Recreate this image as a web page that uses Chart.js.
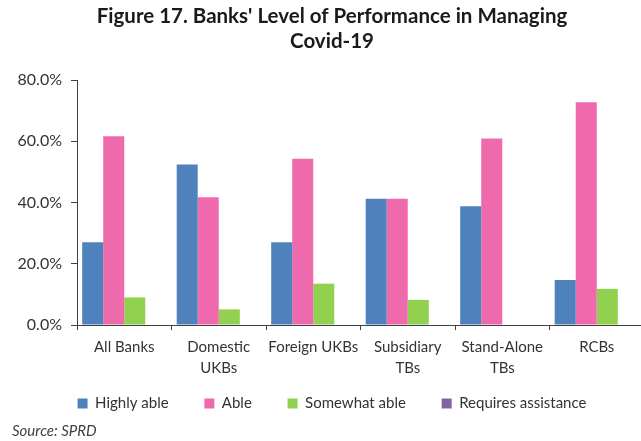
<!DOCTYPE html>
<html>
<head>
<meta charset="utf-8">
<script src="https://cdn.jsdelivr.net/npm/chart.js@4/dist/chart.umd.min.js"></script>
<style>
  html, body { margin: 0; padding: 0; background: #fff; overflow: hidden; }
  #wrap { position: relative; width: 664px; height: 441px; }
  #source {
    position: absolute; left: 12px; top: 421px;
    font: italic 15px Lato, sans-serif; color: #404040;
  }
</style>
</head>
<body>
<div id="wrap">
  <canvas id="perfChart" width="664" height="441"></canvas>
  <div id="source">Source: SPRD</div>
</div>
<script>
// Bank groups on the x axis
const categories = [
    'All Banks',
    ['Domestic', 'UKBs'],
    'Foreign UKBs',
    ['Subsidiary', 'TBs'],
    ['Stand-Alone', 'TBs'],
    'RCBs'
];

// Share of banks (%) per rating
const highlyAble = [27.0, 52.4, 27.0, 41.2, 38.8, 14.7];
const able = [61.6, 41.7, 54.3, 41.2, 60.9, 72.7];
const somewhatAble = [9.0, 5.1, 13.5, 8.2, 0, 11.8];
const requiresAssistance = [0, 0, 0, 0, 0, 0];

const yTicks = [0, 20, 40, 60, 80];

const axisColor = '#404040';
const textColor = '#333333';

document.addEventListener('DOMContentLoaded', function() {
    const ctx = document.getElementById('perfChart').getContext('2d');
    new Chart(ctx, {
        type: 'bar',
        data: {
            labels: categories,
            datasets: [
                { label: 'Highly able', data: highlyAble, backgroundColor: '#4F81BD' },
                { label: 'Able', data: able, backgroundColor: '#EF6AAC' },
                { label: 'Somewhat able', data: somewhatAble, backgroundColor: '#92D050' },
                { label: 'Requires assistance', data: requiresAssistance, backgroundColor: '#8064A2' }
            ]
        },
        options: {
            responsive: false,
            animation: false,
            layout: { padding: { left: 0, right: 0, top: 0, bottom: 20 } },
            datasets: {
                bar: { categoryPercentage: 0.89, barPercentage: 1.0, borderWidth: 0 }
            },
            plugins: {
                title: {
                    display: true,
                    text: ["Figure 17. Banks' Level of Performance in Managing", 'Covid-19'],
                    color: '#1a1a1a',
                    font: { family: 'Lato', size: 20.5, weight: 'bold', lineHeight: 1.22 },
                    padding: { top: 4, bottom: 26 }
                },
                legend: {
                    position: 'bottom',
                    labels: {
                        boxWidth: 10,
                        boxHeight: 10,
                        padding: 17,
                        color: textColor,
                        font: { family: 'Lato', size: 15 },
                        // wider gaps between the legend entries
                        generateLabels: function(chart) {
                            const items = Chart.defaults.plugins.legend.labels.generateLabels(chart);
                            items.forEach((item, i) => {
                                if (i < items.length - 1) item.text += '\u2003\u2002';
                            });
                            return items;
                        }
                    }
                },
                tooltip: { enabled: false }
            },
            scales: {
                x: {
                    grid: { drawOnChartArea: false, drawTicks: true, tickLength: 5, color: axisColor, offset: true },
                    border: { color: axisColor, width: 1 },
                    ticks: {
                        color: textColor,
                        padding: 7,
                        maxRotation: 0,
                        autoSkip: false,
                        font: { family: 'Lato', size: 15, lineHeight: 1.4 }
                    },
                    afterFit: function(scale) { scale.height = 54; }
                },
                y: {
                    min: yTicks[0],
                    max: yTicks[yTicks.length - 1],
                    afterBuildTicks: function(scale) {
                        scale.ticks = yTicks.map(v => ({ value: v }));
                    },
                    grid: { drawOnChartArea: false, drawTicks: true, tickLength: 6, color: axisColor },
                    border: { color: axisColor, width: 1 },
                    ticks: {
                        color: textColor,
                        padding: 9,
                        font: { family: 'Lato', size: 16 },
                        callback: v => v.toFixed(1) + '%'
                    },
                    afterFit: function(scale) { scale.width = 77; }
                },
                // empty strip on the right so the plot stops short of the edge
                yRight: {
                    position: 'right',
                    grid: { display: false },
                    border: { display: false },
                    ticks: { display: false },
                    afterFit: function(scale) { scale.width = 20; }
                }
            }
        }
    });
});
</script>
</body>
</html>
